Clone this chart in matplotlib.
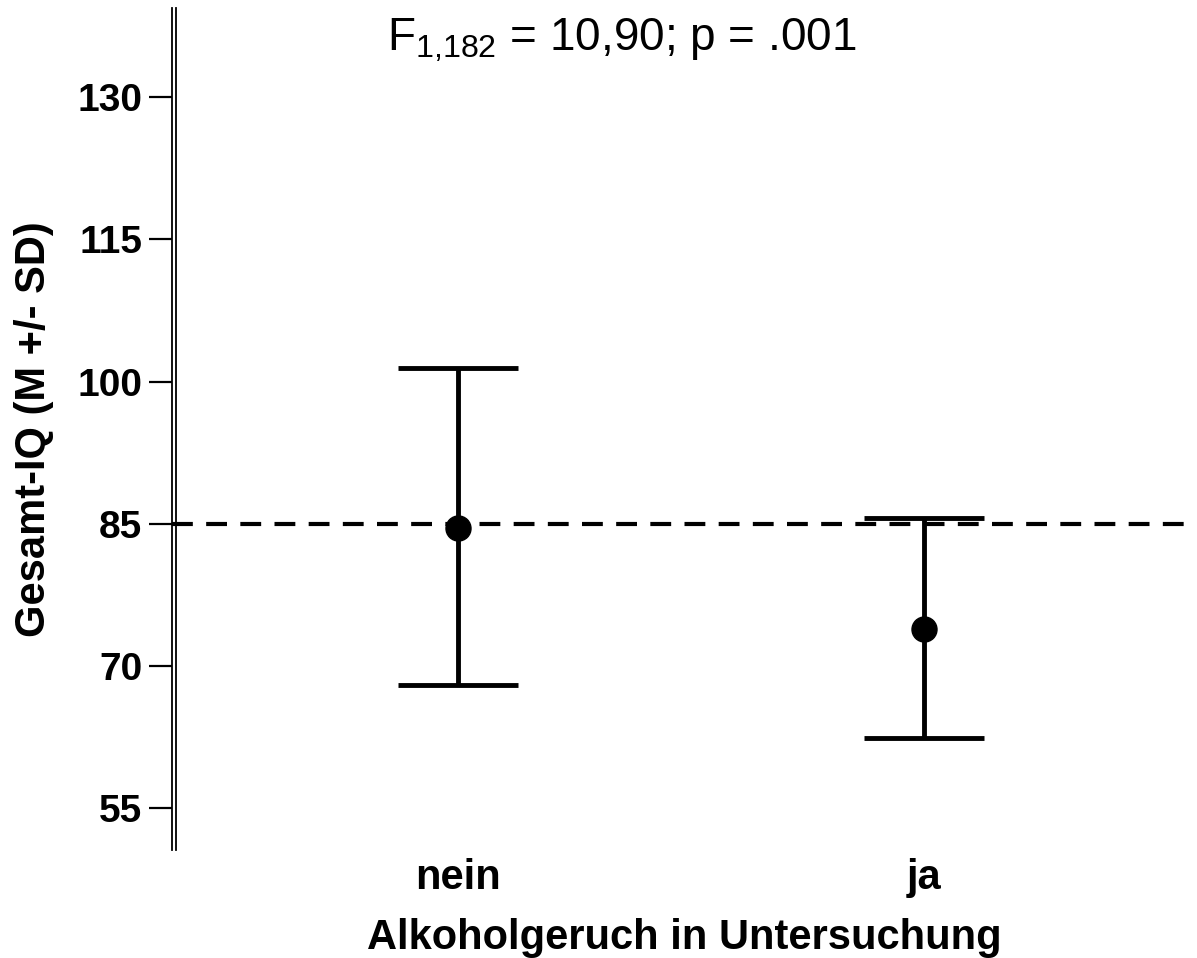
import matplotlib
matplotlib.use("Agg")
import matplotlib.pyplot as plt
import matplotlib.transforms as mtransforms

plt.rcParams['font.family'] = ['Liberation Sans', 'DejaVu Sans']
plt.rcParams['mathtext.fontset'] = 'custom'
plt.rcParams['mathtext.rm'] = 'Liberation Sans'
plt.rcParams['mathtext.it'] = 'Liberation Sans'

# data
groups = ['nein', 'ja']
means = [84.6, 73.9]
upper = [101.4, 85.6]
lower = [68.0, 62.4]
ref_line = 85
yticks = [55, 70, 85, 100, 115, 130]

xpos = [1, 2]
err_lo = [m - l for m, l in zip(means, lower)]
err_hi = [u - m for u, m in zip(upper, means)]

fig = plt.figure(figsize=(11.97, 9.58), dpi=100)
ax = fig.add_axes([0.1437, 0.1127, 0.8563, 0.8789])

ax.axhline(ref_line, color='black', lw=3, dashes=(5, 3.2), zorder=1)
ax.errorbar(xpos, means, yerr=[err_lo, err_hi], fmt='o', color='black',
            ms=18, elinewidth=3.5, capsize=43, capthick=3.5, zorder=3)

ax.set_xlim(0.386, 2.586)
ax.set_ylim(50.6, 139.4)
ax.set_yticks(yticks)
ax.set_yticklabels([str(t) for t in yticks], fontsize=28, fontweight='bold')
ax.set_xticks(xpos)
ax.set_xticklabels(groups, fontsize=30, fontweight='bold')
ax.tick_params(axis='y', length=16.5, width=1.6, pad=5)
ax.tick_params(axis='x', length=0, pad=6)

for side in ['top', 'right', 'bottom']:
    ax.spines[side].set_visible(False)
ax.spines['left'].set_linewidth(1.3)

# second line of the double y axis
offset = mtransforms.ScaledTranslation(4 / 100, 0, fig.dpi_scale_trans)
ax.plot([0, 0], [0, 1], color='black', lw=1.3, transform=ax.transAxes + offset,
        clip_on=False)

ax.set_ylabel('Gesamt-IQ (M +/- SD)', fontsize=30, fontweight='bold', labelpad=17)
ax.set_xlabel('Alkoholgeruch in Untersuchung', fontsize=30, fontweight='bold', labelpad=14)

fig.text(0.519, 0.958, r'$\mathregular{F_{1{,}182}}$ = 10,90; p = .001', fontsize=33,
         ha='center', va='center')

fig.savefig('out.png', dpi=100)
